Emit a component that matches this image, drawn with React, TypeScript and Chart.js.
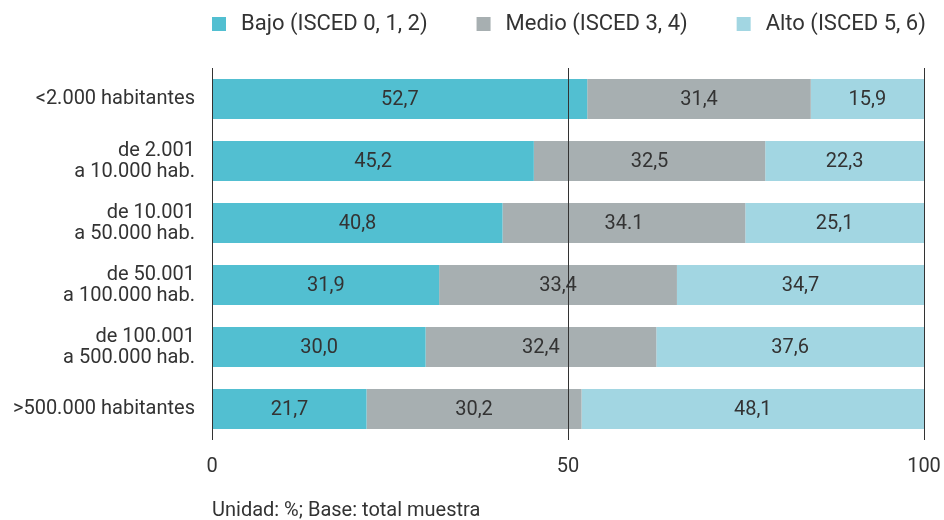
import React, { useEffect, useRef } from "react";
import { Chart, registerables } from "chart.js";

Chart.register(...registerables);

const categories: (string | string[])[] = [
  "<2.000 habitantes",
  ["de 2.001", "a 10.000 hab."],
  ["de 10.001", "a 50.000 hab."],
  ["de 50.001", "a 100.000 hab."],
  ["de 100.001", "a 500.000 hab."],
  ">500.000 habitantes",
];

const bajo = [52.7, 45.2, 40.8, 31.9, 30.0, 21.7];
const medio = [31.4, 32.5, 34.1, 33.4, 32.4, 30.2];
const alto = [15.9, 22.3, 25.1, 34.7, 37.6, 48.1];

const bajoLabels = ["52,7", "45,2", "40,8", "31,9", "30,0", "21,7"];
const medioLabels = ["31,4", "32,5", "34.1", "33,4", "32,4", "30,2"];
const altoLabels = ["15,9", "22,3", "25,1", "34,7", "37,6", "48,1"];

const seriesNames = ["Bajo (ISCED 0, 1, 2)", "Medio (ISCED 3, 4)", "Alto (ISCED 5, 6)"];
const seriesColors = ["#52BFD1", "#A7AFB1", "#A2D6E2"];
const xTicks = [0, 50, 100];
const footer = "Unidad: %; Base: total muestra";

const FONT = "Roboto, 'Noto Sans', sans-serif";
const TEXT = "#333333";

const labelSets = [bajoLabels, medioLabels, altoLabels];

const valueLabelPlugin = {
  id: "valueLabels",
  afterDatasetsDraw(chart: any) {
    const ctx = chart.ctx;
    ctx.save();
    ctx.font = `20px ${FONT}`;
    ctx.fillStyle = TEXT;
    ctx.textAlign = "center";
    ctx.textBaseline = "middle";
    chart.data.datasets.forEach((ds: any, di: number) => {
      const meta = chart.getDatasetMeta(di);
      meta.data.forEach((bar: any, i: number) => {
        const { x, base, y } = bar.getProps(["x", "base", "y"], true);
        ctx.fillText(labelSets[di][i], (x + base) / 2, y + 1);
      });
    });
    ctx.restore();
  },
};

const legendFooterPlugin = {
  id: "legendFooter",
  afterDraw(chart: any) {
    const ctx = chart.ctx;
    const left = chart.chartArea.left;
    ctx.save();
    ctx.font = `22px ${FONT}`;
    ctx.textBaseline = "middle";
    ctx.textAlign = "left";
    let x = left;
    const y = 24;
    seriesNames.forEach((name, i) => {
      ctx.fillStyle = seriesColors[i];
      ctx.fillRect(x, y - 7, 14, 14);
      ctx.fillStyle = TEXT;
      ctx.fillText(name, x + 29, y);
      x += 29 + ctx.measureText(name).width + 49;
    });
    ctx.font = `20px ${FONT}`;
    ctx.fillStyle = TEXT;
    ctx.fillText(footer, left, 511);
    ctx.restore();
  },
};

export default function App() {
  const ref = useRef<HTMLCanvasElement>(null);
  useEffect(() => {
    document.body.style.margin = "0";
    const chart = new Chart(ref.current!, {
      type: "bar",
      data: {
        labels: categories,
        datasets: [
          { label: seriesNames[0], data: bajo, backgroundColor: seriesColors[0] },
          { label: seriesNames[1], data: medio, backgroundColor: seriesColors[1] },
          { label: seriesNames[2], data: alto, backgroundColor: seriesColors[2] },
        ].map((d) => ({ ...d, barPercentage: 40 / 62, categoryPercentage: 1, borderWidth: 0 })),
      },
      options: {
        indexAxis: "y",
        animation: false,
        responsive: true,
        maintainAspectRatio: false,
        layout: { padding: { top: 68, right: 20, bottom: 26, left: 0 } },
        plugins: {
          legend: { display: false },
          tooltip: { enabled: false },
        },
        scales: {
          x: {
            stacked: true,
            min: 0,
            max: 100,
            afterBuildTicks(scale: any) {
              scale.ticks = xTicks.map((v) => ({ value: v }));
            },
            afterFit(scale: any) {
              scale.paddingRight = 0;
              scale.paddingLeft = 0;
            },
            border: { display: false },
            grid: { color: "#333333", lineWidth: 1, drawTicks: false, z: 1 },
            ticks: {
              padding: 15,
              color: TEXT,
              font: { family: FONT, size: 20 },
            },
          },
          y: {
            stacked: true,
            border: { display: false },
            grid: { display: false },
            afterFit(scale: any) {
              scale.width = 212;
            },
            ticks: {
              padding: 9,
              color: TEXT,
              font: { family: FONT, size: 20, lineHeight: 1.05 },
            },
          },
        },
      } as any,
      plugins: [valueLabelPlugin, legendFooterPlugin],
    });
    return () => chart.destroy();
  }, []);
  return (
    <div style={{ position: "fixed", left: 0, top: 0, width: 944, height: 520 }}>
      <canvas ref={ref} />
    </div>
  );
}
